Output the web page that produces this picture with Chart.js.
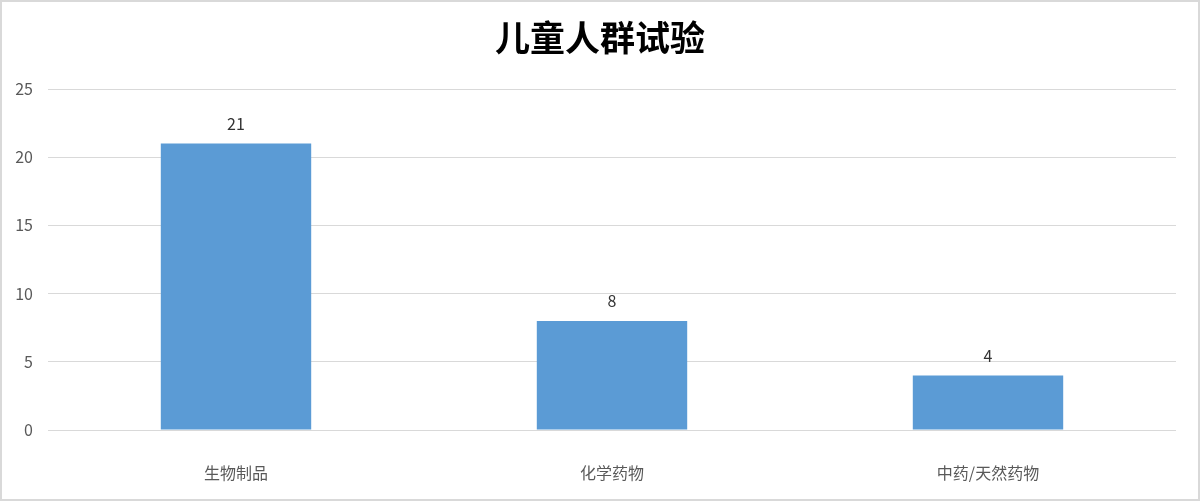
<!DOCTYPE html>
<html>
<head>
<meta charset="utf-8">
<script src="https://cdn.jsdelivr.net/npm/chart.js@4.4.1/dist/chart.umd.min.js"></script>
<style>
  html, body { margin: 0; padding: 0; background: #fff; }
  #wrap { width: 1200px; height: 501px; }
</style>
</head>
<body>
<div id="wrap"><canvas id="chart" width="1200" height="501"></canvas></div>
<script>
const categories = ['生物制品', '化学药物', '中药/天然药物'];
const trialCounts = [21, 8, 4];
const yTicks = [0, 5, 10, 15, 20, 25];

const FONT = '"Noto Sans CJK SC", "Noto Sans", sans-serif';

// white background + thin gray frame like the office chart export
const frame = {
  id: 'frame',
  beforeDraw(chart) {
    const ctx = chart.ctx;
    ctx.save();
    ctx.fillStyle = '#fff';
    ctx.fillRect(0, 0, chart.width, chart.height);
    ctx.strokeStyle = '#d9d9d9';
    ctx.lineWidth = 2;
    ctx.strokeRect(1, 1, chart.width - 2, chart.height - 2);
    ctx.restore();
  }
};

// value labels above each bar
const barValues = {
  id: 'barValues',
  afterDatasetsDraw(chart) {
    const ctx = chart.ctx;
    const meta = chart.getDatasetMeta(0);
    ctx.save();
    ctx.font = '16px ' + FONT;
    ctx.fillStyle = '#333333';
    ctx.textAlign = 'center';
    ctx.textBaseline = 'middle';
    meta.data.forEach((bar, i) => {
      ctx.fillText(String(trialCounts[i]), bar.x, bar.y - 20);
    });
    ctx.restore();
  }
};

new Chart(document.getElementById('chart'), {
  type: 'bar',
  data: {
    labels: categories,
    datasets: [{
      data: trialCounts,
      backgroundColor: '#5b9bd5',
      borderWidth: 0,
      categoryPercentage: 1,
      barPercentage: 0.4
    }]
  },
  options: {
    responsive: false,
    animation: false,
    layout: { padding: 0 },
    plugins: {
      legend: { display: false },
      tooltip: { enabled: false },
      title: {
        display: true,
        text: '儿童人群试验',
        color: '#000',
        font: { family: FONT, size: 35, weight: 'bold' },
        padding: { top: 17, bottom: 30 }
      }
    },
    scales: {
      x: {
        grid: { display: false, drawTicks: false },
        border: { display: false },
        ticks: { color: '#595959', font: { family: FONT, size: 16 }, padding: 33 },
        afterFit(scale) { scale.height = 71; }
      },
      y: {
        min: 0,
        max: 25,
        afterBuildTicks(scale) { scale.ticks = yTicks.map(v => ({ value: v })); },
        grid: { color: '#d9d9d9', lineWidth: 1, drawTicks: false },
        border: { display: false },
        ticks: { color: '#595959', font: { family: FONT, size: 16 }, padding: 15 },
        afterFit(scale) { scale.width = 48; }
      },
      // empty right axis, only keeps the right margin so the title stays centred on the page
      yRight: {
        position: 'right',
        min: 0,
        max: 25,
        grid: { display: false, drawTicks: false },
        border: { display: false },
        ticks: { display: false },
        afterFit(scale) { scale.width = 24; }
      }
    }
  },
  plugins: [frame, barValues]
});
</script>
</body>
</html>
